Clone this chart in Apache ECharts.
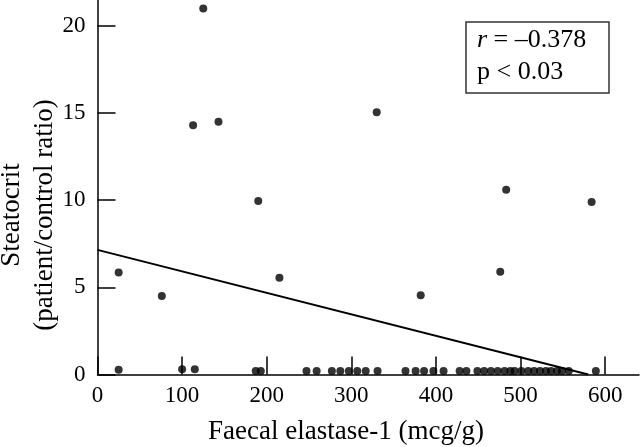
<!DOCTYPE html>
<html>
<head>
<meta charset="utf-8">
<script src="https://cdn.jsdelivr.net/npm/echarts@6/dist/echarts.min.js"></script>
<style>
html,body{margin:0;padding:0;background:#fff;}
#chart{width:640px;height:447px;}
</style>
</head>
<body>
<div id="chart"></div>
<script>
// Faecal elastase-1 (mcg/g)
var elastase = [125, 113, 143, 190, 330, 483, 584, 25, 76, 215, 382, 476,
  25, 100, 115, 187, 193, 247, 259, 277, 287, 297, 307, 317, 331,
  364, 376, 386, 397, 409, 428, 436, 449, 457, 465, 473, 481, 488, 493,
  501, 509, 516, 523, 530, 536, 543, 549, 557, 589];
// Steatocrit (patient/control ratio)
var steatocrit = [21.0, 14.3, 14.5, 9.95, 15.05, 10.6, 9.9, 5.85, 4.5, 5.55, 4.55, 5.9,
  0.27, 0.3, 0.3, 0.2, 0.2, 0.2, 0.2, 0.2, 0.2, 0.2, 0.2, 0.2, 0.2,
  0.2, 0.2, 0.2, 0.2, 0.2, 0.2, 0.2, 0.2, 0.2, 0.2, 0.2, 0.2, 0.2, 0.2,
  0.2, 0.2, 0.2, 0.2, 0.2, 0.2, 0.2, 0.2, 0.2, 0.2];
// Regression line end points
var fitX = [0, 580];
var fitY = [7.15, 0];
var xTicks = [0, 100, 200, 300, 400, 500, 600];
var yTicks = [0, 5, 10, 15, 20];
var xTitle = 'Faecal elastase-1 (mcg/g)';
var yTitle1 = 'Steatocrit';
var yTitle2 = '(patient/control ratio)';
var statR = '\u20130.378';
var statP = 'p < 0.03';

var serif = '"Liberation Serif", "DejaVu Serif", serif';
var chart = echarts.init(document.getElementById('chart'), null, {renderer: 'canvas'});
var points = elastase.map(function (x, i) { return [x, steatocrit[i]]; });
var fit = fitX.map(function (x, i) { return [x, fitY[i]]; });

chart.setOption({
  animation: false,
  backgroundColor: '#fff',
  grid: {left: 97.5, right: 1, top: -9, bottom: 72.5, containLabel: false, outerBoundsMode: 'none'},
  xAxis: {
    type: 'value', min: 0, max: 640, interval: 100,
    splitLine: {show: false},
    axisLine: {onZero: false, lineStyle: {color: '#000', width: 1.5}},
    axisTick: {inside: true, length: 18, lineStyle: {color: '#000', width: 1.5}},
    axisLabel: {margin: 10, color: '#000', fontFamily: serif, fontSize: 23, showMaxLabel: false,
      formatter: function (v) { return xTicks.indexOf(v) >= 0 ? String(v) : ''; }}
  },
  yAxis: {
    type: 'value', min: 0, max: 22, interval: 5,
    splitLine: {show: false},
    axisLine: {onZero: false, lineStyle: {color: '#000', width: 1.5}},
    axisTick: {inside: true, length: 18, lineStyle: {color: '#000', width: 1.5}},
    axisLabel: {margin: 12, color: '#000', fontFamily: serif, fontSize: 23, showMaxLabel: false,
      formatter: function (v) { return yTicks.indexOf(v) >= 0 ? String(v) : ''; }}
  },
  series: [
    {
      type: 'scatter', data: points, symbol: 'circle', symbolSize: 8,
      itemStyle: {color: '#000'}, z: 3
    },
    {
      type: 'line', data: fit, symbol: 'none',
      lineStyle: {color: '#000', width: 2}, z: 2
    }
  ],
  graphic: [
    {
      type: 'text', x: 346, y: 432,
      style: {text: xTitle, fontFamily: serif, fontSize: 27, fill: '#000',
        align: 'center', verticalAlign: 'middle'}
    },
    {
      type: 'text', x: 28, y: 215, rotation: Math.PI / 2,
      style: {text: yTitle1 + '\n' + yTitle2, fontFamily: serif, fontSize: 27, fill: '#000',
        align: 'center', verticalAlign: 'middle', lineHeight: 33}
    },
    {
      type: 'rect', shape: {x: 466, y: 22, width: 143, height: 71},
      style: {fill: '#fff', stroke: '#333', lineWidth: 1.5}, z: 10
    },
    {
      type: 'text', x: 477, y: 56, z: 11,
      style: {
        text: '{i|r} = ' + statR + '\n' + statP,
        fontFamily: serif, fontSize: 26, fill: '#000', lineHeight: 32,
        align: 'left', verticalAlign: 'middle',
        rich: {i: {fontStyle: 'italic', fontFamily: serif, fontSize: 26, fill: '#000', lineHeight: 32}}
      }
    }
  ]
});
</script>
</body>
</html>
